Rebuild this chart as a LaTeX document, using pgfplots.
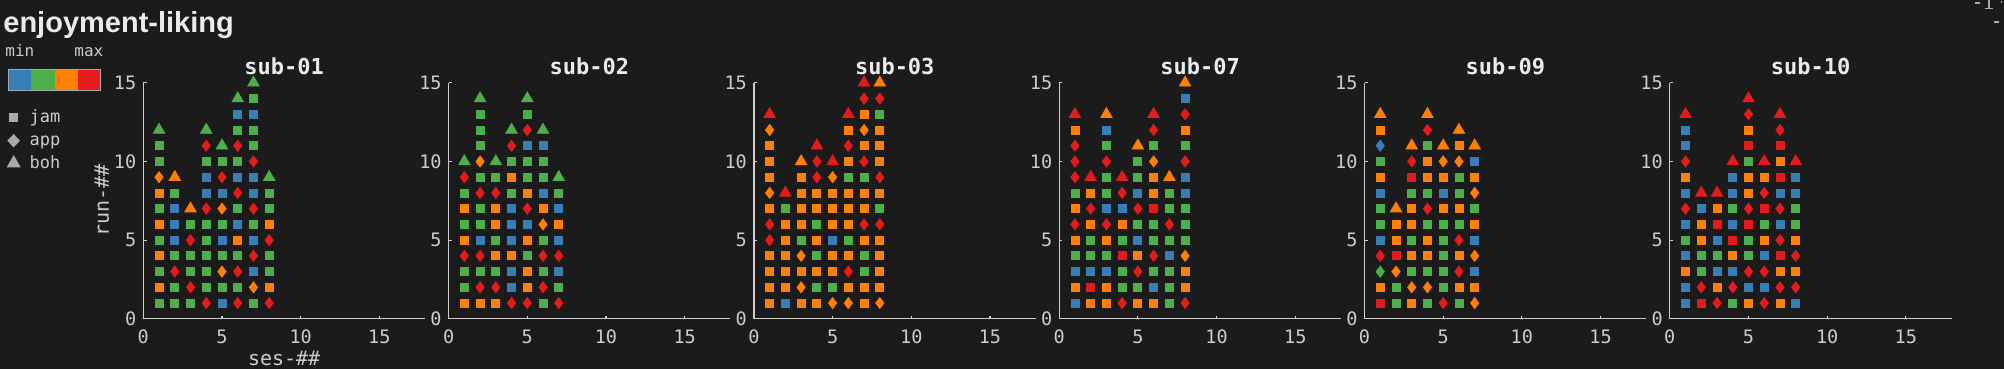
\documentclass[border=0pt]{standalone}
\usepackage{fontspec}
\usepackage{pgfplots}
\pgfplotsset{compat=1.18}
\newfontfamily\monof{DejaVu Sans Mono}
\newfontfamily\titlef{Liberation Sans}
\definecolor{bgc}{RGB}{27,27,27}
\definecolor{cB}{HTML}{377EB8}
\definecolor{cG}{HTML}{4DAF4A}
\definecolor{cO}{HTML}{FF7F00}
\definecolor{cR}{HTML}{E41A1C}
\definecolor{axc}{RGB}{205,205,205}
\definecolor{txt}{RGB}{205,205,205}
\definecolor{ttl}{RGB}{235,235,235}
\definecolor{lgr}{RGB}{170,170,170}
\tikzset{
  sq/.style={mark=square*, mark size=2.0pt},
  dm/.style={mark=diamond*, mark size=2.75pt, mark options={xscale=1.15}},
  tr/.style={mark=triangle*, mark size=3.3pt},
}
\pgfplotsset{
  subax/.style={
    scale only axis, width=140.85pt, height=118pt,
    anchor=south west,
    xmin=0, xmax=17.9, ymin=0, ymax=15,
    axis x line*=bottom, axis y line*=left,
    axis line style={-, draw=axc, line width=0.6pt},
    xtick={0,5,10,15}, ytick={0,5,10,15},
    tick align=inside, major tick length=1.6pt,
    every tick/.style={draw=axc, line width=0.6pt},
    /pgf/number format/assume math mode=true,
    tick label style={font=\monof\fontsize{9.25}{10}\selectfont, text=txt},
    xticklabel style={yshift=-1.9pt},
    every axis title/.style={at={(axis description cs:0.5,1.0369)}, anchor=base,
      font=\monof\bfseries\fontsize{11}{12}\selectfont, text=ttl},
    every axis x label/.style={at={(axis description cs:0.5,-0.1975)}, anchor=base,
      font=\monof\fontsize{10}{11}\selectfont, text=txt},
    every axis y label/.style={at={(axis description cs:-0.1221,0.5)}, rotate=90, anchor=base,
      font=\monof\fontsize{10}{11}\selectfont, text=txt},
    scatter/classes={
      bs={sq,cB}, gs={sq,cG}, os={sq,cO}, rs={sq,cR},
      bd={dm,cB}, gd={dm,cG}, od={dm,cO}, rd={dm,cR},
      bt={tr,cB}, gt={tr,cG}, ot={tr,cO}, rt={tr,cR}},
    clip=false,
  },
  pts/.style={scatter, only marks, point meta=explicit symbolic},
}
\begin{document}
\begin{tikzpicture}
\fill[bgc] (0,0) rectangle (1002pt,184.5pt);
\useasboundingbox (0,0) rectangle (1002pt,184.5pt);
% main title
\node[anchor=base west, inner sep=0, text=ttl, font=\titlef\bfseries\fontsize{14.5}{16}\selectfont] at (1.5pt,168.35pt) {enjoyment-liking};
% colour key
\node[anchor=base west, inner sep=0, text=txt, font=\monof\fontsize{8}{9}\selectfont] at (2.5pt,156.15pt) {min};
\node[anchor=base west, inner sep=0, text=txt, font=\monof\fontsize{8}{9}\selectfont] at (37pt,156.15pt) {max};
\fill[cB] (4.15pt,139.15pt) rectangle (15.7pt,149.85pt);
\fill[cG] (15.7pt,139.15pt) rectangle (27.25pt,149.85pt);
\fill[cO] (27.25pt,139.15pt) rectangle (38.8pt,149.85pt);
\fill[cR] (38.8pt,139.15pt) rectangle (50.35pt,149.85pt);
\draw[lgr, line width=0.5pt] (4.15pt,139.15pt) rectangle (50.35pt,149.85pt);
% marker key
\fill[lgr] (4.5pt,123.52pt) rectangle (9.16pt,128.18pt);
\fill[lgr] (6.83pt,117.48pt) -- (10.0pt,114.15pt) -- (6.83pt,110.82pt) -- (3.66pt,114.15pt) -- cycle;
\fill[lgr] (6.85pt,107pt) -- (10.35pt,100.85pt) -- (3.35pt,100.85pt) -- cycle;
\node[anchor=base west, inner sep=0, text=txt, font=\monof\fontsize{8.5}{9}\selectfont] at (14.65pt,123.35pt) {jam};
\node[anchor=base west, inner sep=0, text=txt, font=\monof\fontsize{8.5}{9}\selectfont] at (14.65pt,111.6pt) {app};
\node[anchor=base west, inner sep=0, text=txt, font=\monof\fontsize{8.5}{9}\selectfont] at (14.65pt,100.35pt) {boh};
% corner remnants
\draw[lgr, line width=0.6pt] (987.5pt,183pt) -- (990pt,183pt);
\draw[lgr, line width=0.6pt] (994.5pt,184.5pt) -- (994.5pt,180.5pt);
\draw[lgr, line width=0.6pt] (992.5pt,180.3pt) -- (996.5pt,180.3pt);
\draw[lgr, line width=0.6pt] (997pt,173.5pt) -- (999.5pt,173.5pt);
\fill[lgr] (1000.3pt,183.2pt) rectangle (1001pt,183.9pt);

\begin{axis}[subax, at={(71.65pt,25.1pt)}, title={sub-01}, xlabel={ses-\#\#}, ylabel={run-\#\#}]
\addplot[pts] coordinates {
(1,1)[gs](1,2)[os](1,3)[gs](1,4)[os](1,5)[gs](1,6)[os](1,7)[gs](1,8)[os](1,9)[od](1,10)[gs](1,11)[gs](1,12)[gt]
(2,1)[gs](2,2)[gs](2,3)[rd](2,4)[gs](2,5)[bs](2,6)[bs](2,7)[bs](2,8)[gs](2,9)[ot]
(3,1)[gs](3,2)[rd](3,3)[gs](3,4)[gs](3,5)[rd](3,6)[gs](3,7)[ot]
(4,1)[rd](4,2)[gs](4,3)[gs](4,4)[gs](4,5)[gs](4,6)[gs](4,7)[rd](4,8)[bs](4,9)[bs](4,10)[gs](4,11)[rd](4,12)[gt]
(5,1)[bs](5,2)[gs](5,3)[od](5,4)[gs](5,5)[bs](5,6)[gs](5,7)[od](5,8)[bs](5,9)[rd](5,10)[gs](5,11)[gt]
(6,1)[rd](6,2)[gs](6,3)[rd](6,4)[gs](6,5)[os](6,6)[bs](6,7)[gs](6,8)[rd](6,9)[bs](6,10)[gs](6,11)[rd](6,12)[gs](6,13)[bs](6,14)[gt]
(7,1)[gs](7,2)[od](7,3)[bs](7,4)[rd](7,5)[bs](7,6)[gs](7,7)[rd](7,8)[bs](7,9)[bs](7,10)[rd](7,11)[gs](7,12)[gs](7,13)[bs](7,14)[gs](7,15)[gt]
(8,1)[rd](8,2)[os](8,3)[gs](8,4)[gs](8,5)[rd](8,6)[os](8,7)[gs](8,8)[gs](8,9)[gt]
};
\end{axis}

\begin{axis}[subax, at={(224.3pt,25.1pt)}, title={sub-02}]
\addplot[pts] coordinates {
(1,1)[os](1,2)[gs](1,3)[gs](1,4)[rd](1,5)[os](1,6)[gs](1,7)[os](1,8)[gs](1,9)[rd](1,10)[gt]
(2,1)[os](2,2)[rd](2,3)[gs](2,4)[rd](2,5)[bs](2,6)[gs](2,7)[gs](2,8)[rd](2,9)[gs](2,10)[od](2,11)[gs](2,12)[gs](2,13)[gs](2,14)[gt]
(3,1)[os](3,2)[rd](3,3)[gs](3,4)[os](3,5)[gs](3,6)[os](3,7)[os](3,8)[rd](3,9)[gs](3,10)[gt]
(4,1)[rd](4,2)[bs](4,3)[bs](4,4)[os](4,5)[bs](4,6)[bs](4,7)[bs](4,8)[gs](4,9)[os](4,10)[gs](4,11)[rd](4,12)[gt]
(5,1)[rd](5,2)[os](5,3)[os](5,4)[gs](5,5)[os](5,6)[bs](5,7)[rd](5,8)[os](5,9)[gs](5,10)[gs](5,11)[bs](5,12)[rd](5,13)[gs](5,14)[gt]
(6,1)[gs](6,2)[rd](6,3)[gs](6,4)[rd](6,5)[gs](6,6)[od](6,7)[os](6,8)[bs](6,9)[gs](6,10)[gs](6,11)[bs](6,12)[gt]
(7,1)[rd](7,2)[gs](7,3)[bs](7,4)[rd](7,5)[bs](7,6)[os](7,7)[bs](7,8)[gs](7,9)[gt]
};
\end{axis}

\begin{axis}[subax, at={(376.95pt,25.1pt)}, title={sub-03}]
\addplot[pts] coordinates {
(1,1)[os](1,2)[os](1,3)[os](1,4)[os](1,5)[rd](1,6)[rd](1,7)[os](1,8)[od](1,9)[os](1,10)[os](1,11)[os](1,12)[od](1,13)[rt]
(2,1)[bs](2,2)[os](2,3)[os](2,4)[os](2,5)[os](2,6)[os](2,7)[gs](2,8)[rt]
(3,1)[os](3,2)[od](3,3)[os](3,4)[od](3,5)[gs](3,6)[os](3,7)[os](3,8)[os](3,9)[os](3,10)[ot]
(4,1)[os](4,2)[gs](4,3)[os](4,4)[gs](4,5)[os](4,6)[gs](4,7)[os](4,8)[os](4,9)[rd](4,10)[rd](4,11)[rt]
(5,1)[od](5,2)[gs](5,3)[os](5,4)[os](5,5)[bs](5,6)[os](5,7)[os](5,8)[os](5,9)[od](5,10)[rt]
(6,1)[od](6,2)[os](6,3)[rd](6,4)[os](6,5)[gs](6,6)[os](6,7)[os](6,8)[os](6,9)[gs](6,10)[os](6,11)[rd](6,12)[os](6,13)[rt]
(7,1)[os](7,2)[os](7,3)[gs](7,4)[gs](7,5)[os](7,6)[rd](7,7)[os](7,8)[os](7,9)[gs](7,10)[rd](7,11)[os](7,12)[od](7,13)[os](7,14)[rd](7,15)[rt]
(8,1)[od](8,2)[os](8,3)[os](8,4)[os](8,5)[os](8,6)[rd](8,7)[gs](8,8)[os](8,9)[rd](8,10)[os](8,11)[os](8,12)[os](8,13)[gs](8,14)[rd](8,15)[ot]
};
\end{axis}

\begin{axis}[subax, at={(529.6pt,25.1pt)}, title={sub-07}]
\addplot[pts] coordinates {
(1,1)[bs](1,2)[os](1,3)[bs](1,4)[gs](1,5)[os](1,6)[rd](1,7)[os](1,8)[gs](1,9)[rd](1,10)[rd](1,11)[rd](1,12)[os](1,13)[rt]
(2,1)[os](2,2)[rs](2,3)[bs](2,4)[gs](2,5)[gs](2,6)[os](2,7)[rd](2,8)[os](2,9)[rt]
(3,1)[os](3,2)[os](3,3)[bs](3,4)[gs](3,5)[os](3,6)[rd](3,7)[bs](3,8)[gs](3,9)[gs](3,10)[rd](3,11)[gs](3,12)[bs](3,13)[ot]
(4,1)[rd](4,2)[gs](4,3)[gs](4,4)[rs](4,5)[gs](4,6)[os](4,7)[bs](4,8)[rd](4,9)[rt]
(5,1)[os](5,2)[gs](5,3)[rd](5,4)[os](5,5)[bs](5,6)[gs](5,7)[rd](5,8)[bs](5,9)[gs](5,10)[gs](5,11)[ot]
(6,1)[os](6,2)[bs](6,3)[gs](6,4)[rd](6,5)[gs](6,6)[gs](6,7)[rs](6,8)[os](6,9)[os](6,10)[od](6,11)[gs](6,12)[rd](6,13)[rt]
(7,1)[gs](7,2)[gs](7,3)[gs](7,4)[bs](7,5)[gs](7,6)[rd](7,7)[gs](7,8)[gs](7,9)[ot]
(8,1)[rd](8,2)[os](8,3)[os](8,4)[od](8,5)[gs](8,6)[gs](8,7)[gs](8,8)[bs](8,9)[bs](8,10)[rd](8,11)[gs](8,12)[os](8,13)[rd](8,14)[bs](8,15)[ot]
};
\end{axis}

\begin{axis}[subax, at={(682.25pt,25.1pt)}, title={sub-09}]
\addplot[pts] coordinates {
(1,1)[rs](1,2)[os](1,3)[gd](1,4)[rd](1,5)[bs](1,6)[gs](1,7)[gs](1,8)[bs](1,9)[os](1,10)[gs](1,11)[bd](1,12)[os](1,13)[ot]
(2,1)[gs](2,2)[gs](2,3)[od](2,4)[rs](2,5)[os](2,6)[os](2,7)[ot]
(3,1)[os](3,2)[od](3,3)[gs](3,4)[os](3,5)[gs](3,6)[os](3,7)[os](3,8)[gs](3,9)[rs](3,10)[rd](3,11)[ot]
(4,1)[gs](4,2)[od](4,3)[gs](4,4)[os](4,5)[os](4,6)[gs](4,7)[rd](4,8)[gs](4,9)[os](4,10)[os](4,11)[gs](4,12)[rd](4,13)[ot]
(5,1)[rd](5,2)[gs](5,3)[gs](5,4)[gs](5,5)[gs](5,6)[gs](5,7)[os](5,8)[bs](5,9)[os](5,10)[od](5,11)[ot]
(6,1)[gs](6,2)[os](6,3)[rd](6,4)[os](6,5)[rd](6,6)[gs](6,7)[os](6,8)[gs](6,9)[gs](6,10)[od](6,11)[os](6,12)[ot]
(7,1)[od](7,2)[os](7,3)[bs](7,4)[od](7,5)[bs](7,6)[os](7,7)[gs](7,8)[od](7,9)[os](7,10)[bs](7,11)[ot]
};
\end{axis}

\begin{axis}[subax, at={(834.9pt,25.1pt)}, title={sub-10}]
\addplot[pts] coordinates {
(1,1)[bs](1,2)[bs](1,3)[os](1,4)[bs](1,5)[gs](1,6)[bs](1,7)[rd](1,8)[bs](1,9)[os](1,10)[rd](1,11)[bs](1,12)[bs](1,13)[rt]
(2,1)[rs](2,2)[rd](2,3)[gs](2,4)[gs](2,5)[os](2,6)[os](2,7)[bs](2,8)[rt]
(3,1)[rd](3,2)[os](3,3)[bs](3,4)[gs](3,5)[bs](3,6)[rs](3,7)[os](3,8)[rt]
(4,1)[gs](4,2)[rd](4,3)[bs](4,4)[os](4,5)[rs](4,6)[bs](4,7)[gs](4,8)[bs](4,9)[bs](4,10)[rt]
(5,1)[os](5,2)[bs](5,3)[rd](5,4)[gs](5,5)[gs](5,6)[rs](5,7)[rd](5,8)[os](5,9)[os](5,10)[gs](5,11)[rs](5,12)[os](5,13)[rd](5,14)[rt]
(6,1)[rd](6,2)[bs](6,3)[rd](6,4)[bs](6,5)[os](6,6)[gs](6,7)[rs](6,8)[rd](6,9)[os](6,10)[rt]
(7,1)[os](7,2)[rd](7,3)[os](7,4)[rs](7,5)[rd](7,6)[bs](7,7)[rd](7,8)[bs](7,9)[rs](7,10)[os](7,11)[rs](7,12)[rd](7,13)[rt]
(8,1)[bs](8,2)[rd](8,3)[os](8,4)[rd](8,5)[os](8,6)[gs](8,7)[gs](8,8)[bs](8,9)[bs](8,10)[rt]
};
\end{axis}
\end{tikzpicture}
\end{document}
